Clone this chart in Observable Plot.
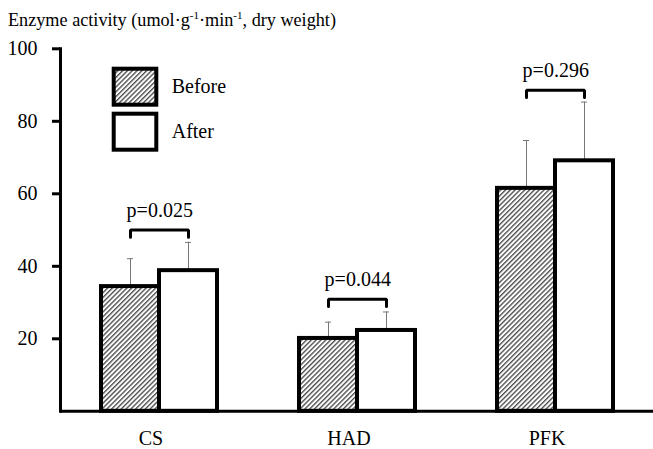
<!DOCTYPE html>
<html><head><meta charset="utf-8">
<script src="https://cdn.jsdelivr.net/npm/d3@7"></script>
<script src="https://cdn.jsdelivr.net/npm/@observablehq/plot@0.6"></script>
<style>
body{margin:0;background:#fff;font-family:"Liberation Serif","Times New Roman",serif;}
#wrap{position:relative;width:653px;height:449px;overflow:hidden;background:#fff;}
#title{height:34px;box-sizing:border-box;padding:10px 0 0 8px;font-size:18.2px;line-height:20px;white-space:nowrap;color:#000;}
#title sup{font-size:11px;line-height:0;vertical-align:7px;}
#chart svg{display:block;}
#legend{position:absolute;left:0;top:0;}
</style></head><body>
<div id="wrap">
<div id="title">Enzyme activity (umol·g<sup>-1</sup>·min<sup>-1</sup>, dry weight)</div>
<div id="chart"></div>
<svg id="legend" width="653" height="449"></svg>
</div>
<script>
const categories = ["CS", "HAD", "PFK"];
const series = ["Before", "After"];
const before = [34.4, 20.1, 61.5];
const after = [38.8, 22.3, 69.1];
const beforeUpper = [42.1, 24.6, 74.7];
const afterUpper = [46.6, 27.4, 85.3];
const pLabels = ["p=0.025", "p=0.044", "p=0.296"];
const bracketY = [50, 30.9, 88.6];
const bracketDrop = 2;
const yTicks = [20, 40, 60, 80, 100];

const FONT = "'Liberation Serif', 'Times New Roman', serif";

const bars = categories.flatMap((c, i) => [
  {cat: c, series: "Before", value: before[i], upper: beforeUpper[i]},
  {cat: c, series: "After", value: after[i], upper: afterUpper[i]}
]);
const brackets = categories.flatMap((c, i) => [
  {cat: c, s: "Before", y: bracketY[i] - bracketDrop},
  {cat: c, s: "Before", y: bracketY[i]},
  {cat: c, s: "After", y: bracketY[i]},
  {cat: c, s: "After", y: bracketY[i] - bracketDrop}
]);
const pRows = categories.map((c, i) => ({cat: c, s: "Before", y: bracketY[i], label: pLabels[i]}));

function addHatch(svg, id) {
  const p = d3.select(svg).insert("defs", ":first-child").append("pattern")
    .attr("id", id).attr("patternUnits", "userSpaceOnUse")
    .attr("width", 3.4).attr("height", 3.4)
    .attr("patternTransform", "rotate(45)");
  p.append("rect").attr("width", 3.4).attr("height", 3.4).attr("fill", "#fff");
  p.append("line").attr("x1", 0.7).attr("x2", 0.7).attr("y1", 0).attr("y2", 3.4)
    .attr("stroke", "#333").attr("stroke-width", 1.2);
}

const plot = Plot.plot({
  width: 653, height: 415,
  marginLeft: 60, marginRight: 13, marginTop: 14.3, marginBottom: 38.2,
  style: {fontFamily: FONT, fontSize: "20px", color: "#000", background: "#fff", overflow: "visible"},
  fx: {domain: categories, paddingInner: 0.0854, paddingOuter: 0, align: 0, label: null, axis: null},
  x: {domain: series, paddingInner: 0, paddingOuter: 0.556, align: 0.63, axis: null},
  y: {domain: [0, 100], axis: null},
  color: {domain: series, range: ["url(#hatch)", "#fff"]},
  marks: [
    Plot.axisFx({anchor: "bottom", tickSize: 0, tickPadding: 19.5, label: null, fontSize: 20}),
    Plot.axisY({ticks: yTicks, tickSize: 8, tickPadding: 15, strokeWidth: 3, label: null, fontSize: 20}),
    Plot.frame({anchor: "left", facetAnchor: "left", strokeWidth: 3}),
    Plot.ruleX(bars, {fx: "cat", x: "series", y1: "value", y2: "upper", stroke: "#777", strokeWidth: 1}),
    Plot.tickY(bars, {fx: "cat", x: "series", y: "upper", stroke: "#777", strokeWidth: 1, insetLeft: 26, insetRight: 26}),
    Plot.barY(bars, {fx: "cat", x: "series", y: "value", fill: "series", stroke: "#000", strokeWidth: 4}),
    Plot.ruleY([0], {strokeWidth: 3, insetRight: -17}),
    Plot.line(brackets, {fx: "cat", x: "s", y: "y", z: "cat", stroke: "#000", strokeWidth: 3, strokeLinejoin: "miter", curve: "linear"}),
    Plot.text(pRows, {fx: "cat", x: "s", y: "y", text: "label", dx: 29.24, dy: -19.5, fontSize: 20, lineAnchor: "middle"})
  ]
});
addHatch(plot, "hatch");
document.getElementById("chart").appendChild(plot);

// legend
const lg = document.getElementById("legend");
addHatch(lg, "hatch2");
const L = d3.select(lg);
const fills = ["url(#hatch2)", "#fff"];
series.forEach((s, i) => {
  const y = 68.7 + i * 45;
  L.append("rect").attr("x", 113.7).attr("y", y).attr("width", 42.6).attr("height", 36)
    .attr("fill", fills[i]).attr("stroke", "#000").attr("stroke-width", 4);
  L.append("text").attr("x", 171.7).attr("y", y + 23.8).text(s)
    .attr("font-family", FONT).attr("font-size", 20).attr("fill", "#000");
});
</script>
</body></html>
